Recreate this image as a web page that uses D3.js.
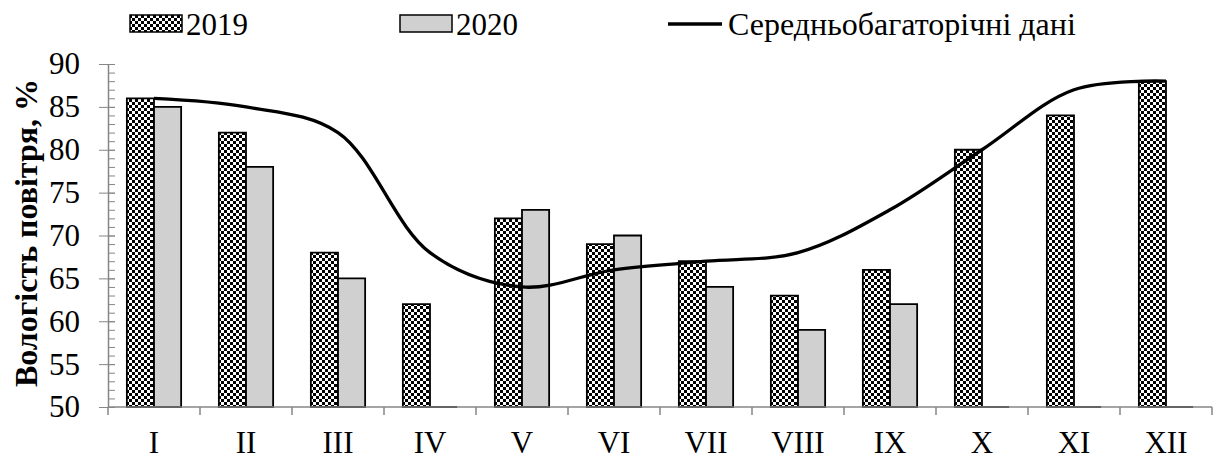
<!DOCTYPE html>
<html>
<head>
<meta charset="utf-8">
<script src="https://cdn.jsdelivr.net/npm/d3@7"></script>
<style>
  html, body { margin: 0; padding: 0; background: #fff; }
</style>
</head>
<body>
<svg id="chart" width="1214" height="459"></svg>
<script>
const months = ["I", "II", "III", "IV", "V", "VI", "VII", "VIII", "IX", "X", "XI", "XII"];
const series = ["2019", "2020"];
const values2019 = [86, 82, 68, 62, 72, 69, 67, 63, 66, 80, 84, 88];
const values2020 = [85, 78, 65, 0, 73, 70, 64, 59, 62, 0, 0, 0];
const longTermAvg = [86, 85, 82, 68, 64, 66, 67, 68, 73, 80, 87, 88];
const yTickValues = [50, 55, 60, 65, 70, 75, 80, 85, 90];
const yMinorValues = d3.range(50, 91, 1);
const legendLabels = ["2019", "2020", "Середньобагаторічні дані"];
const yTitle = "Вологість повітря, %";

const FONT = "'Liberation Serif', 'Times New Roman', Times, serif";
const svg = d3.select("#chart");
const margin = { left: 108, right: 2, top: 64, bottom: 52 };
const W = 1214, H = 459;
const axisColor = "#868686";

const x0 = d3.scaleBand().domain(months).range([margin.left, W - margin.right]).padding(0);
const bw = x0.bandwidth();
const groupW = bw * 0.59;
const x1 = d3.scaleBand().domain(series).range([(bw - groupW) / 2, (bw + groupW) / 2]).padding(0);
const y = d3.scaleLinear().domain([50, 90]).range([H - margin.bottom, margin.top]).clamp(true);

const defs = svg.append("defs");
const pat = defs.append("pattern").attr("id", "checker")
  .attr("patternUnits", "userSpaceOnUse").attr("width", 6).attr("height", 6);
pat.append("rect").attr("width", 6).attr("height", 6).attr("fill", "#fff");
pat.append("rect").attr("x", 0).attr("y", 0).attr("width", 3).attr("height", 3).attr("fill", "#000");
pat.append("rect").attr("x", 3).attr("y", 3).attr("width", 3).attr("height", 3).attr("fill", "#000");

const fills = { "2019": "url(#checker)", "2020": "#d0d0d0" };

// Bars
const data = months.map((m, i) => ({ m, "2019": values2019[i], "2020": values2020[i] }));
const groups = svg.append("g").selectAll("g").data(data).join("g")
  .attr("transform", d => `translate(${x0(d.m)},0)`);
groups.selectAll("path").data(d => series.map(s => ({ s, v: d[s] }))).join("path")
  .attr("d", d => {
    const xa = x1(d.s), xb = x1(d.s) + x1.bandwidth();
    const y0 = y(50), yv = y(d.v);
    return `M${xa},${y0}V${yv}H${xb}V${y0}Z`;
  })
  .attr("fill", d => fills[d.s])
  .attr("stroke", "#000")
  .attr("stroke-width", 1.8);

// Y axis
const yAxis = svg.append("g").attr("transform", `translate(${margin.left},0)`);
yAxis.append("g")
  .call(d3.axisLeft(y).tickValues(yMinorValues).tickSize(-7).tickFormat(""))
  .call(g => g.select(".domain").remove())
  .call(g => g.selectAll("line").attr("stroke", axisColor));
yAxis.append("g")
  .call(d3.axisLeft(y).tickValues(yTickValues).tickSizeInner(9).tickSizeOuter(0).tickPadding(19).tickFormat(d3.format("d")))
  .call(g => g.select(".domain").attr("stroke", axisColor).attr("stroke-width", 1.5))
  .call(g => g.selectAll("line").attr("stroke", axisColor).attr("x2", -9).attr("x1", 7))
  .call(g => g.selectAll("text").style("font-family", FONT).style("font-size", "31px").attr("fill", "#000"));

// X axis
const xAxis = svg.append("g").attr("transform", `translate(0,${y(50)})`);
xAxis.append("line").attr("x1", margin.left).attr("x2", W - margin.right)
  .attr("stroke", axisColor).attr("stroke-width", 1.5);
xAxis.selectAll("line.tick").data(d3.range(months.length + 1)).join("line")
  .attr("class", "tick")
  .attr("x1", i => margin.left + i * bw).attr("x2", i => margin.left + i * bw)
  .attr("y1", 0).attr("y2", 8).attr("stroke", axisColor).attr("stroke-width", 1.5);
xAxis.selectAll("text").data(months).join("text")
  .attr("x", d => x0(d) + bw / 2)
  .attr("y", 46)
  .attr("text-anchor", "middle")
  .style("font-family", FONT).style("font-size", "31px")
  .text(d => d);

// Line
const line = d3.line()
  .x((d, i) => x0(months[i]) + bw / 2)
  .y(d => y(d))
  .curve(d3.curveCatmullRom.alpha(0.5));
svg.append("path").datum(longTermAvg)
  .attr("d", line).attr("fill", "none").attr("stroke", "#000").attr("stroke-width", 3.3);

// Y title
svg.append("text")
  .attr("transform", `translate(37,233) rotate(-90)`)
  .attr("text-anchor", "middle")
  .style("font-family", FONT).style("font-size", "32px").style("font-weight", "bold")
  .text(yTitle);

// Legend
const lg = svg.append("g");
const legendItems = [
  { label: legendLabels[0], type: "bar", fill: fills["2019"], x: 130 },
  { label: legendLabels[1], type: "bar", fill: fills["2020"], x: 400 },
  { label: legendLabels[2], type: "line", x: 668 }
];
legendItems.forEach(it => {
  if (it.type === "bar") {
    lg.append("rect").attr("x", it.x).attr("y", 15).attr("width", 52).attr("height", 17)
      .attr("fill", it.fill).attr("stroke", "#000").attr("stroke-width", 1.5);
    lg.append("text").attr("x", it.x + 56).attr("y", 35)
      .style("font-family", FONT).style("font-size", "31px").text(it.label);
  } else {
    lg.append("line").attr("x1", it.x).attr("x2", it.x + 54).attr("y1", 24).attr("y2", 24)
      .attr("stroke", "#000").attr("stroke-width", 3.3);
    lg.append("text").attr("x", it.x + 60).attr("y", 35)
      .style("font-family", FONT).style("font-size", "32px").text(it.label);
  }
});
</script>
</body>
</html>
